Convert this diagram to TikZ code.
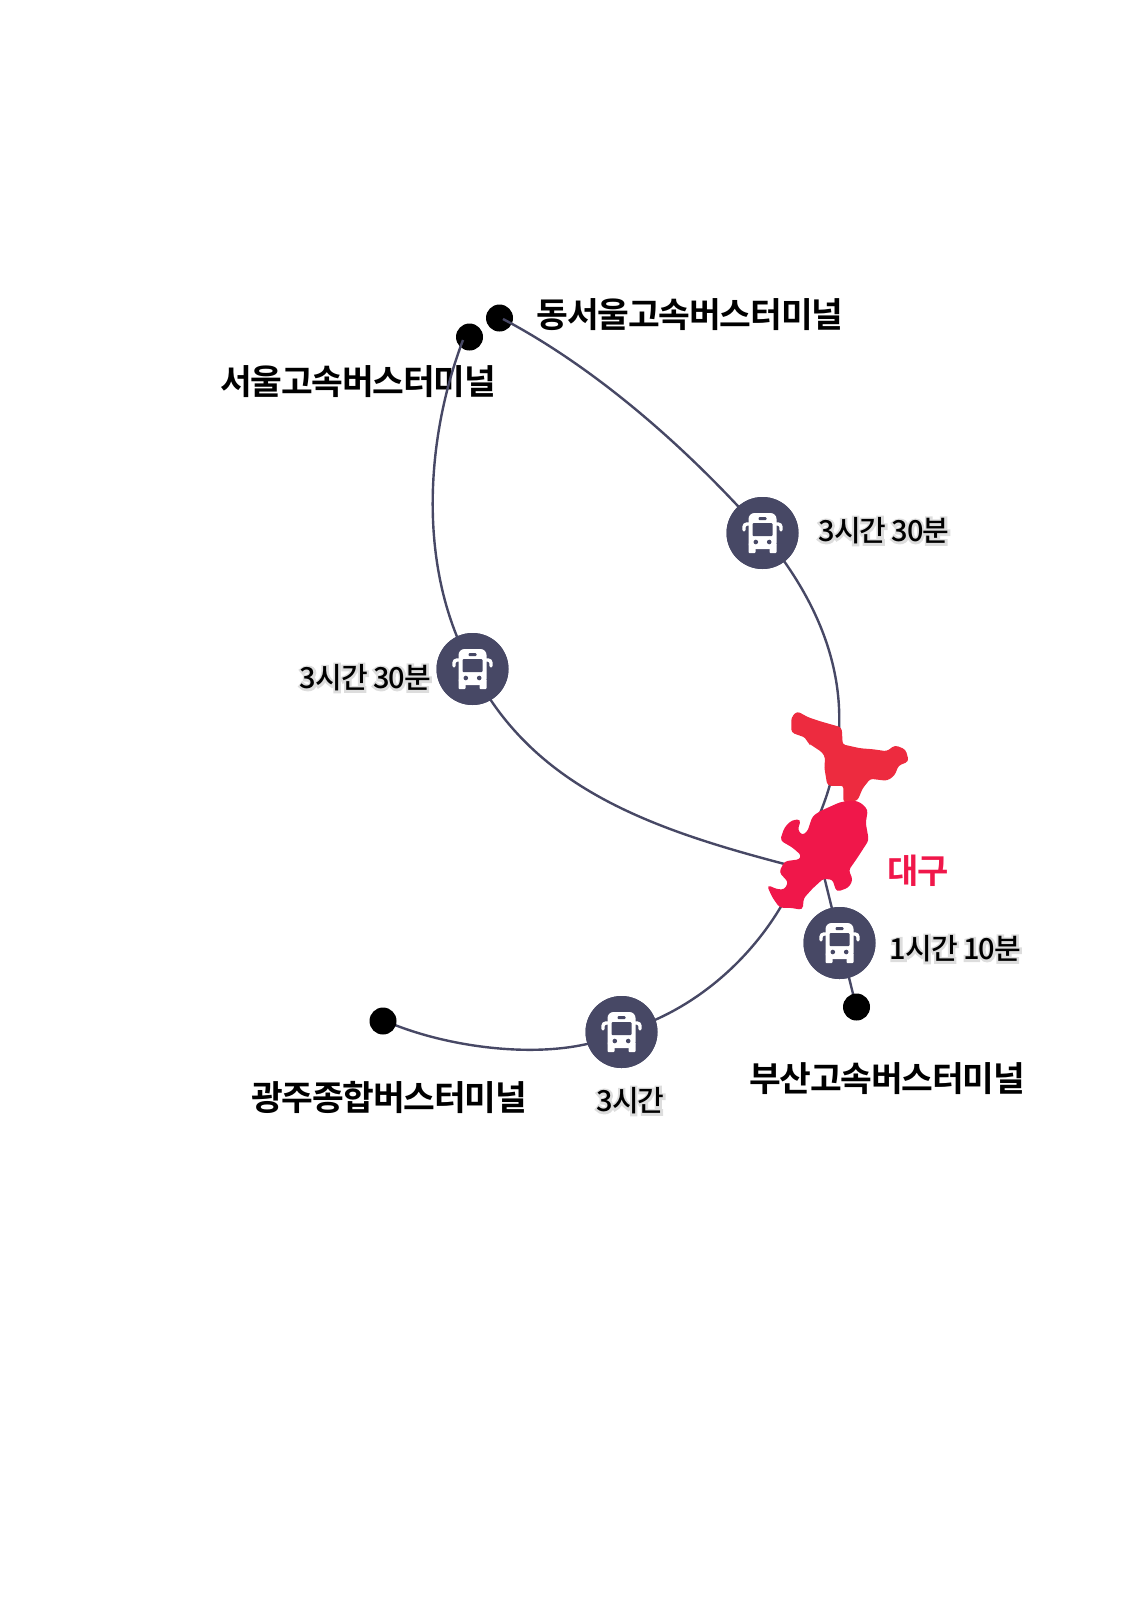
\documentclass[tikz,border=0pt]{standalone}
\usepackage{fontspec}
\setmainfont[BoldFont={Noto Sans CJK KR Bold},LetterSpace=-3.5]{Noto Sans CJK KR}
\newfontfamily\mediumfont[LetterSpace=-3.5]{Noto Sans CJK KR Medium}
\definecolor{routeblue}{HTML}{474865}
\definecolor{haloGray}{HTML}{DDDDDD}
\definecolor{daeguPink}{HTML}{F0174A}
\definecolor{daeguRed}{HTML}{ED2B3F}
\newcommand{\halotext}[1]{\rlap{\textcolor{haloGray}{\addfontfeature{FakeBold=15}#1}}#1}
\tikzset{
  terminal/.style={circle, fill=black, minimum size=27pt, inner sep=0pt},
  busstop/.style={circle, fill=routeblue, minimum size=72pt, inner sep=0pt},
  route/.style={draw=routeblue, line width=2.4pt},
  placelabel/.style={font=\fontsize{34.5}{38}\selectfont\bfseries, inner sep=0pt},
  timelabel/.style={font=\fontsize{29}{34}\mediumfont, inner sep=0pt},
  busicon/.pic={
    \fill[white, rounded corners=6pt] (-14,-20) rectangle (14,16);
    \fill[white, rounded corners=1pt] (-14,10) rectangle (-7,20);
    \fill[white, rounded corners=1pt] (7,10) rectangle (14,20);
    \fill[routeblue, rounded corners=1pt] (-10,-10) rectangle (10,3);
    \fill[routeblue, rounded corners=1pt] (-4,-16) rectangle (4,-13);
    \fill[routeblue] (-6.7,9) circle (2.3);
    \fill[routeblue] (6.7,9) circle (2.3);
    \draw[white, line width=3.4pt, line cap=round, rounded corners=3pt] (-13,-9) -- (-18.5,-9) -- (-18.5,-3);
    \draw[white, line width=3.4pt, line cap=round, rounded corners=3pt] (13,-9) -- (18.5,-9) -- (18.5,-3);
  }
}
\begin{document}
\begin{tikzpicture}[x=1pt, y=-1pt]
    \useasboundingbox (0,0) rectangle (1134,1604);

    \coordinate (busanend) at (856,1006);
    \coordinate (gwangjuend) at (383,1020);
    \coordinate (dongend) at (503,319);
    \coordinate (seoulend) at (463,340);
    \coordinate (daeguN) at (815,825);
    \coordinate (daeguW) at (800,868);
    \coordinate (daeguSW) at (790,890);
    \coordinate (daeguS) at (820,860);

    \node[busstop] (busdong) at (762.5,533) {};
    \node[busstop] (busseoul) at (472.5,669) {};
    \node[busstop] (busbusan) at (839.5,943) {};
    \node[busstop] (busgwangju) at (621.5,1032) {};

    \draw[route] (gwangjuend) .. controls (450,1050) and (560,1063) .. (busgwangju.center);
    \draw[route] (busanend) -- (daeguS);

    \node[terminal] (dongseoul) at (499.5,318) {};
    \node[terminal] (seoul) at (469.5,337) {};
    \node[terminal] (gwangju) at (383,1021) {};
    \node[terminal] (busan) at (856.5,1007) {};

    \node[placelabel] (dongseoullabel) at (690,315) {동서울고속버스터미널};
    \node[placelabel] (seoullabel) at (358,382) {서울고속버스터미널};
    \node[placelabel] (gwangjulabel) at (389,1097) {광주종합버스터미널};
    \node[placelabel] (busanlabel) at (887,1079) {부산고속버스터미널};

    \draw[route] (dongend) .. controls (590,365) and (680,440) .. (busdong.center);
    \draw[route] (busdong.center) .. controls (818,600) and (872,700) .. (daeguN);
    \draw[route] (seoulend) .. controls (425,440) and (417,570) .. (busseoul.center);
    \draw[route] (busseoul.center) .. controls (535,792) and (660,832) .. (daeguW);
    \draw[route] (busgwangju.center) .. controls (700,1010) and (760,950) .. (daeguSW);

    \node[busstop] at (busdong) {};
    \node[busstop] at (busseoul) {};
    \node[busstop] at (busbusan) {};
    \node[busstop] at (busgwangju) {};
    \pic at (busdong) {busicon};
    \pic at (busseoul) {busicon};
    \pic at (busbusan) {busicon};
    \pic at (busgwangju) {busicon};

    \node[timelabel] (timedong) at (884,531) {\halotext{3시간 30분}};
    \node[timelabel] (timeseoul) at (365.5,678) {\halotext{3시간 30분}};
    \node[timelabel] (timebusan) at (955.5,949) {\halotext{1시간 10분}};
    \node[timelabel] (timegwangju) at (630.5,1101) {\halotext{3시간}};

    % Daegu
    \filldraw[daeguRed, line width=1.5pt, rounded corners=3pt] (797,712) -- (792,718) -- (792,732) -- (806,737) -- (808,742) -- (823,752) -- (826,758) -- (825,767) -- (828,785) -- (844,785) -- (844,802) -- (857,800) -- (862,788) -- (870,778) -- (887,780) -- (894,775) -- (898,765) -- (908,761) -- (905,750) -- (895,746) -- (887,752) -- (873,750) -- (860,749) -- (842,745) -- (841,728) -- (820,722) -- (808,718) -- cycle;
    \filldraw[daeguPink, line width=1.5pt, rounded corners=3pt] (852,801) -- (840,803) -- (820,812) -- (813,817) -- (808,832) -- (802,836) -- (797,830) -- (800,820) -- (792,821) -- (785,828) -- (781,840) -- (793,847) -- (802,855) -- (800,860) -- (785,862) -- (780,872) -- (789,882) -- (785,890) -- (777,890) -- (768,886) -- (773,897) -- (780,907) -- (790,907) -- (802,909) -- (803,898) -- (812,888) -- (823,878) -- (833,879) -- (837,891) -- (848,887) -- (852,880) -- (848,870) -- (857,857) -- (868,840) -- (865,823) -- (867,810) -- (860,803) -- cycle;
    \node[font=\fontsize{34}{38}\selectfont\bfseries, text=daeguPink, inner sep=0pt] (daegu) at (918.5,871) {대구};
\end{tikzpicture}
\end{document}
